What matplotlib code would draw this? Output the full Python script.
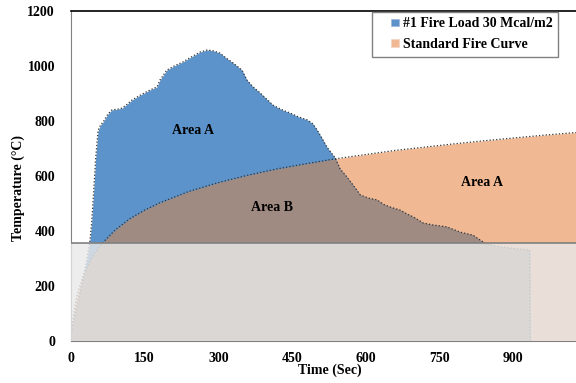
import matplotlib.pyplot as plt
from matplotlib.patches import Patch, Rectangle
from matplotlib.legend_handler import HandlerPatch

plt.rcParams['font.family'] = ['Liberation Serif', 'DejaVu Serif']
plt.rcParams['font.weight'] = 'bold'
plt.rcParams['axes.labelweight'] = 'bold'
plt.rcParams['font.size'] = 10

# fire test (#1 Fire Load 30 Mcal/m2)
fire_t = [0, 10, 20, 30, 38, 42, 46, 50, 55, 60, 65, 75, 83, 95, 104, 115, 124,
          140, 161, 175, 181, 195, 210, 228, 245, 263, 277, 290, 303, 315, 330,
          348, 358, 370, 385, 398, 411, 428, 446, 463, 481, 492, 501, 511, 521,
          538, 548, 560, 575, 589, 605, 623, 636, 650, 670, 684, 697, 717, 737,
          765, 792, 818, 839, 847, 874, 905, 934, 935]
fire_T = [30, 110, 190, 275, 356, 430, 540, 660, 765, 785, 795, 825, 840, 843,
          847, 862, 876, 893, 913, 924, 949, 985, 1000, 1015, 1033, 1051, 1058,
          1055, 1047, 1030, 1011, 985, 949, 925, 902, 880, 858, 842, 829, 815,
          804, 790, 767, 737, 705, 665, 625, 600, 565, 531, 520, 513, 497, 487,
          476, 462, 451, 429, 422, 415, 396, 385, 360, 352, 342, 336, 331, 0]

# standard fire curve
std_t = [0, 5, 10, 15, 30, 45, 60, 90, 120, 150, 180, 240, 300, 360, 420, 480,
         540, 600, 660, 720, 780, 840, 900, 960, 1020, 1050]
std_T = [20, 96, 147, 185, 261, 312, 349, 404, 445, 476, 502, 544, 576, 603,
         626, 645, 663, 678, 693, 705, 717, 728, 738, 748, 757, 761]

xticks = [0, 150, 300, 450, 600, 750, 900]
yticks = [0, 200, 400, 600, 800, 1000, 1200]
band_top = 356

blue = '#5B93CA'
orange = '#F1B993'
brown = '#A08B83'


def small_square(legend, orig_handle, xdescent, ydescent, width, height, fontsize):
    s = 0.55 * fontsize
    return Rectangle((width - s - xdescent, (height - s) / 2 - ydescent), s, s)


fig = plt.figure(figsize=(5.76, 3.83), dpi=100)
ax = fig.add_axes([0.1233, 0.1097, 0.8767, 0.8616])

ax.fill_between(std_t, std_T, color=orange, lw=0, zorder=1)
fb = ax.fill_between(fire_t, fire_T, color=blue, lw=0, zorder=1.1)
overlap = ax.fill_between(std_t, std_T, color=brown, lw=0, zorder=1.2)
overlap.set_clip_path(fb.get_paths()[0], ax.transData)

ax.plot(fire_t, fire_T, ls=':', color='#333333', lw=0.9, zorder=2)
ax.plot(std_t, std_T, ls=':', color='#333333', lw=0.9, zorder=2)

ax.axhspan(0, band_top, color='#E9E9E9', alpha=0.81, lw=0, zorder=3)
ax.axhline(band_top, color='#808080', lw=1.2, zorder=3.5)

ax.text(248, 764, 'Area A', ha='center', va='center', zorder=5)
ax.text(409, 484, 'Area B', ha='center', va='center', zorder=5)
ax.text(837, 575, 'Area A', ha='center', va='center', zorder=5)

ax.set_xlim(0, 1028)
ax.set_ylim(0, 1200)
ax.set_xticks(xticks)
ax.set_yticks(yticks)
ax.tick_params(axis='both', length=0)
ax.tick_params(axis='y', pad=11.5)
ax.tick_params(axis='x', pad=8)

ax.spines['right'].set_visible(False)
ax.spines['top'].set_color('black')
ax.spines['top'].set_linewidth(1.2)
ax.spines['left'].set_color('#808080')
ax.spines['bottom'].set_color('#808080')

ax.set_xlabel('Time (Sec)')
ax.xaxis.set_label_coords(0.512, -0.067)
ax.set_ylabel('Temperature (\u00b0C)')
ax.yaxis.set_label_coords(-0.092, 0.464)

handles = [Patch(facecolor=blue, edgecolor='#A0B8D8', lw=0.5),
           Patch(facecolor=orange, edgecolor='#F5D5C0', lw=0.5)]
leg = ax.legend(handles, ['#1 Fire Load 30 Mcal/m2', 'Standard Fire Curve'],
                loc='upper right', bbox_to_anchor=(0.969, 0.969),
                bbox_transform=fig.transFigure, borderaxespad=0,
                handler_map={Patch: HandlerPatch(patch_func=small_square)},
                handlelength=1.5, handletextpad=0.3,
                labelspacing=0.55, fancybox=False, framealpha=1,
                edgecolor='#808080', borderpad=0.4)
leg.get_frame().set_linewidth(1.0)
leg.set_zorder(6)

fig.savefig('out.png', dpi=100)
